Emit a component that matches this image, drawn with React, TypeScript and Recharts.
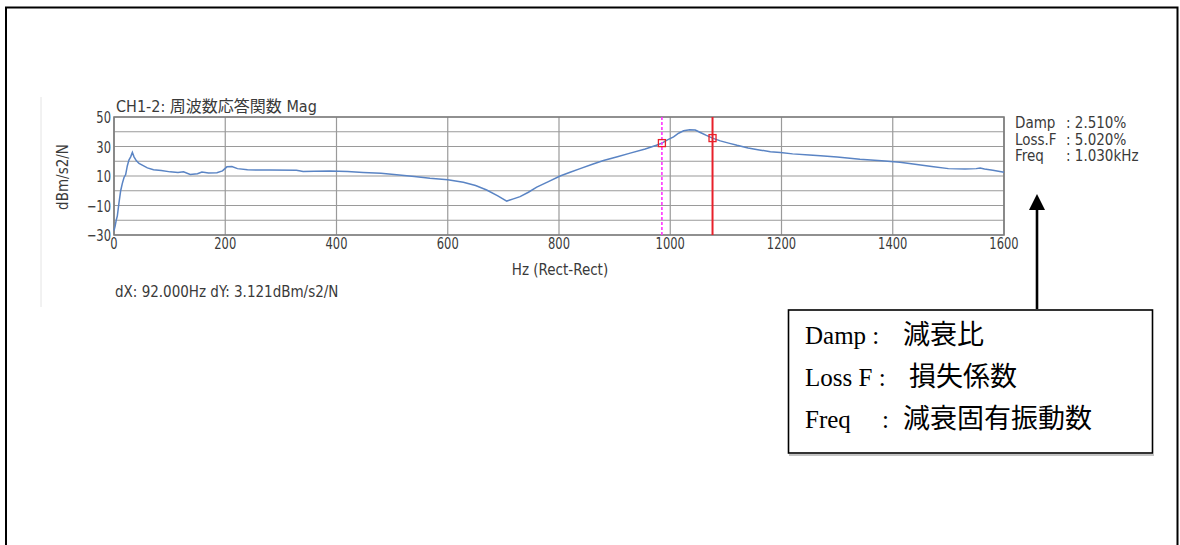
import React from 'react';
import { ComposedChart, Line, XAxis, YAxis, CartesianGrid, ReferenceLine, ReferenceDot, ReferenceArea } from 'recharts';

const freqHz = [0, 2, 4, 6, 9, 12, 15, 18, 21, 24, 27, 30, 33, 36, 40, 45, 50, 60, 71, 85, 101, 115, 125, 137, 150, 158, 170, 185, 195, 203, 212, 222, 240, 280, 328, 340, 360, 388, 420, 448, 480, 508, 540, 568, 600, 628, 650, 670, 690, 706, 718, 730, 745, 760, 780, 802, 820, 838, 860, 880, 905, 928, 955, 975, 985, 995, 1006, 1015, 1024, 1035, 1045, 1054, 1065, 1076, 1090, 1105, 1120, 1140, 1160, 1180, 1198, 1220, 1250, 1270, 1300, 1341, 1380, 1413, 1440, 1470, 1500, 1530, 1550, 1557, 1565, 1580, 1600];
const magDb = [-27, -24, -20, -17, -8, 0, 5, 9, 11, 17, 21, 23, 26, 23, 20.5, 18.5, 17.5, 15.5, 14.2, 13.8, 12.8, 12.3, 12.8, 11, 11.5, 12.7, 12, 12.2, 13.5, 16.2, 16.4, 15, 14.2, 14, 13.9, 13, 13.3, 13.4, 13, 12.4, 11.8, 10.8, 9.7, 8.4, 7.4, 5.7, 3.5, 0.5, -3.5, -7, -5.5, -4, -1, 2.5, 6, 10, 12.5, 15, 18, 20.5, 23, 25.5, 28.3, 30.8, 32.3, 34.5, 36.5, 39, 40.7, 41.3, 41.2, 39.5, 37.5, 35.7, 33.8, 32.3, 30.8, 29, 27.7, 26.5, 26, 25, 24.3, 23.8, 22.8, 21.3, 20.4, 19.3, 18, 16.4, 15, 14.8, 15, 15.4, 14.8, 13.9, 12.6];

const xTicks = [0, 200, 400, 600, 800, 1000, 1200, 1400, 1600];
const yTicks = [-30, -20, -10, 0, 10, 20, 30, 40, 50];
const yLabelTicks = [-30, -10, 10, 30, 50];

const cursorHz = [985, 1076];
const cursorDb = [32.3, 35.7];

const titleText = 'CH1-2: 周波数応答関数 Mag';
const xAxisTitle = 'Hz (Rect-Rect)';
const yAxisTitle = 'dBm/s2/N';
const deltaText = 'dX: 92.000Hz dY: 3.121dBm/s2/N';
const resultLabels = ['Damp', 'Loss.F', 'Freq'];
const resultValues = [': 2.510%', ': 5.020%', ': 1.030kHz'];
const legendLabels = ['Damp :', 'Loss F :', 'Freq'];
const legendColons = ['', '', ':'];
const legendMeanings = ['減衰比', '損失係数', '減衰固有振動数'];

const data = freqHz.map((hz, i) => ({ hz, db: magDb[i] }));

const FONT = '"DejaVu Sans Condensed", "Noto Sans CJK JP", sans-serif';
const SERIF = '"Liberation Serif", "Noto Sans CJK JP", serif';
const TXT = '#3a3a3a';

const square = (props: any) => {
  const { cx, cy } = props;
  return <rect x={cx - 3.5} y={cy - 3.5} width={7} height={7} fill="none" stroke="#e8202a" strokeWidth={1.3} />;
};

const XTick = (props: any) => {
  const { x, y, payload } = props;
  return (
    <g transform={`translate(${x},${y})`}>
      <text transform="scale(0.8,1)" x={0} y={0} dy={12} textAnchor="middle" fontSize={16} fontFamily={FONT} fill={TXT}>
        {payload.value}
      </text>
    </g>
  );
};

const YTick = (props: any) => {
  const { x, y, payload } = props;
  if (!yLabelTicks.includes(payload.value)) return <g />;
  return (
    <g transform={`translate(${x},${y})`}>
      <text transform="scale(0.8,1)" x={0} y={0} dy={6} textAnchor="end" fontSize={16} fontFamily={FONT} fill={TXT}>
        {payload.value < 0 ? '\u2212' + Math.abs(payload.value) : payload.value}
      </text>
    </g>
  );
};

export default function App() {
  return (
    <div style={{ position: 'absolute', left: 0, top: 0, width: 1180, height: 545, background: '#fff', overflow: 'hidden' }}>
      <ComposedChart
        width={1180}
        height={545}
        data={data}
        margin={{ top: 117, right: 176, bottom: 280, left: 74 }}
        style={{ position: 'absolute', left: 0, top: 0 }}
      >
        <CartesianGrid stroke="#9a9a9a" strokeWidth={1.2} horizontalValues={yTicks} verticalValues={xTicks} />
        <XAxis
          dataKey="hz"
          type="number"
          domain={[0, 1600]}
          ticks={xTicks}
          interval={0}
          height={30}
          axisLine={false}
          tickLine={false}
          tickSize={0}
          tickMargin={2}
          tick={<XTick />}
        />
        <YAxis
          type="number"
          domain={[-30, 50]}
          ticks={yTicks}
          interval={0}
          width={40}
          axisLine={false}
          tickLine={false}
          tickSize={0}
          tickMargin={3}
          tick={<YTick />}
        />
        <ReferenceArea x1={0} x2={1600} y1={-30} y2={50} fill="none" stroke="#7c7c7c" strokeWidth={1.6} ifOverflow="visible" />
        <Line
          dataKey="db"
          type="linear"
          stroke="#5a84c4"
          strokeWidth={1.5}
          dot={false}
          isAnimationActive={false}
        />
        <ReferenceLine x={cursorHz[0]} stroke="#ff33ff" strokeWidth={1.6} strokeDasharray="3 2" />
        <ReferenceLine x={cursorHz[1]} stroke="#e8202a" strokeWidth={2} />
        <ReferenceDot x={cursorHz[0]} y={cursorDb[0]} r={4} shape={square} />
        <ReferenceDot x={cursorHz[1]} y={cursorDb[1]} r={4} shape={square} />
      </ComposedChart>
      <svg width={1180} height={545} style={{ position: 'absolute', left: 0, top: 0, pointerEvents: 'none' }}>
        <path d="M6 560 L6 7.5 L1177.5 7.5 L1177.5 560" fill="none" stroke="#000" strokeWidth={2} />
        <line x1={41} y1={97} x2={41} y2={307} stroke="#e4e4e4" strokeWidth={1} />
        <text x={116} y={112} fontSize={16} fontFamily={FONT} fill={TXT}>{titleText}</text>
        <text x={560} y={275} fontSize={15} fontFamily={FONT} fill={TXT} textAnchor="middle">{xAxisTitle}</text>
        <text x={68} y={177} fontSize={15} fontFamily={FONT} fill={TXT} textAnchor="middle" transform="rotate(-90 68 177)">{yAxisTitle}</text>
        <text x={115} y={297} fontSize={15} fontFamily={FONT} fill={TXT}>{deltaText}</text>
        {resultLabels.map((l, i) => (
          <g key={l}>
            <text x={1015} y={128 + i * 16.5} fontSize={15} fontFamily={FONT} fill={TXT}>{l}</text>
            <text x={1066} y={128 + i * 16.5} fontSize={15} fontFamily={FONT} fill={TXT}>{resultValues[i]}</text>
          </g>
        ))}
        <line x1={1037} y1={309} x2={1037} y2={205} stroke="#000" strokeWidth={2.6} />
        <polygon points="1037,194 1029,210 1045,210" fill="#000" />
        <rect x={788.5} y={310} width={364} height={143} fill="#fff" stroke="#000" strokeWidth={1.6} />
        <line x1={789} y1={455} x2={1154} y2={455} stroke="#888" strokeWidth={1.2} />
        {legendLabels.map((l, i) => (
          <g key={l}>
            <text x={805} y={344 + i * 42} fontSize={25} fontFamily={SERIF} fill="#000">{l}</text>
            {legendColons[i] ? <text x={882} y={344 + i * 42} fontSize={25} fontFamily={SERIF} fill="#000">{legendColons[i]}</text> : null}
            <text x={i === 1 ? 909 : 903} y={344 + i * 42} fontSize={27} fontFamily={SERIF} fill="#000">{legendMeanings[i]}</text>
          </g>
        ))}
      </svg>
    </div>
  );
}
